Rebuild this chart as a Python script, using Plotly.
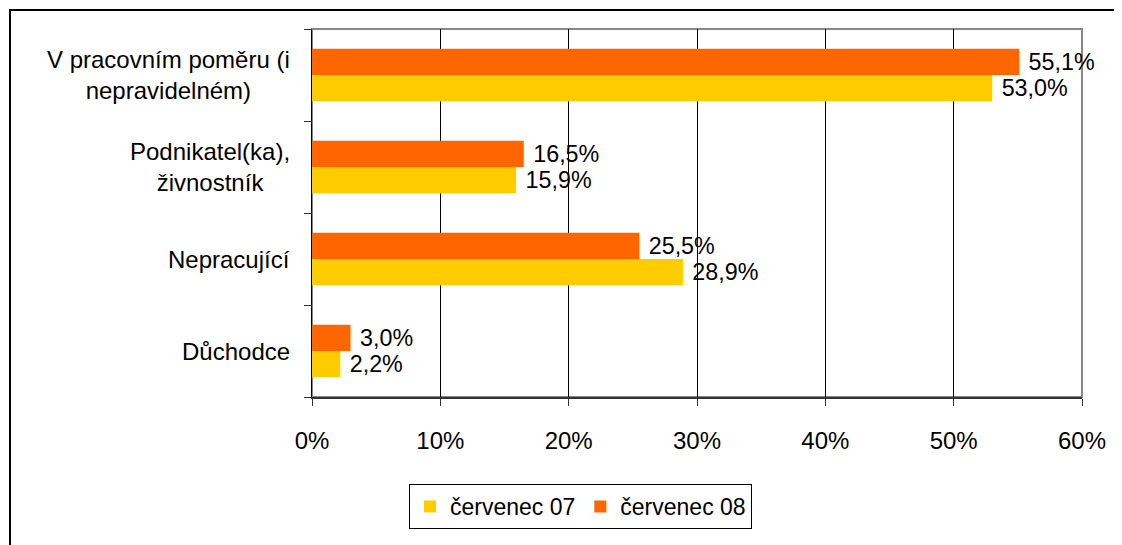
import plotly.graph_objects as go

categories = ["Důchodce", "Nepracující", "Podnikatel(ka),<br>živnostník", "V pracovním poměru (i<br>nepravidelném)"]
values_07 = [2.2, 28.9, 15.9, 53.0]
values_08 = [3.0, 25.5, 16.5, 55.1]
series_names = ["červenec 07", "červenec 08"]
colors = ["#FFCC00", "#FF6600"]
x_ticks = [0, 10, 20, 30, 40, 50, 60]

OFF = 8  # page body margin
W, H = 1122, 545
# target screen pixels of plot area
PL, PR, PT, PB = 312, 1082, 29, 397
PW, PH = PR - PL, PB - PT
ML, MT = PL - OFF, PT - OFF
MR = W - ML - PW
MB = H - MT - PH

def sx(px):  # screen x -> paper x
    return (px - PL) / PW

def sy(py):  # screen y -> paper y
    return (PB - py) / PH

def lab(v):
    return "\u00a0" + f"{v:.1f}%".replace(".", ",")

FAM = "Liberation Sans, Arial"
font = dict(family=FAM, size=24, color="black")

fig = go.Figure()
for name, vals, col in zip(series_names, [values_07, values_08], colors):
    fig.add_trace(go.Bar(
        y=categories, x=vals, name=name, orientation="h",
        marker=dict(color=col, line=dict(width=0)),
        text=[lab(v) for v in vals], textposition="outside",
        textfont=font, cliponaxis=False,
    ))

fig.update_layout(
    width=W, height=H,
    margin=dict(l=ML, r=MR, t=MT, b=MB),
    paper_bgcolor="white", plot_bgcolor="white",
    barmode="group", bargap=0.43, bargroupgap=0,
    font=font,
    showlegend=True,
    legend=dict(orientation="h", x=sx(409), xanchor="left",
                y=sy(484), yanchor="top",
                bordercolor="black", borderwidth=1, font=dict(family=FAM, size=23, color="black"),
                itemwidth=30, tracegroupgap=0),
)
fig.update_xaxes(
    range=[0, 60], tickvals=x_ticks, ticktext=[f"{t}%" for t in x_ticks],
    showgrid=True, gridcolor="black", gridwidth=1,
    ticks="outside", ticklen=7, tickcolor="#333", tickfont=font,
    ticklabelstandoff=14,
    showline=True, linecolor="#333", linewidth=2, zeroline=False,
)
fig.update_yaxes(
    showticklabels=False, ticks="outside", ticklen=7, tickcolor="#333",
    tickson="boundaries", showline=True, linecolor="black", linewidth=1,
    showgrid=False,
)
# plot area border (gray)
fig.add_shape(type="rect", xref="paper", yref="paper", x0=0, x1=1, y0=0, y1=1,
              line=dict(color="#888", width=2), layer="below")
# outer chart border
fig.add_shape(type="rect", xref="paper", yref="paper",
              x0=sx(10), x1=sx(W + 30), y0=sy(H + 30), y1=sy(10),
              line=dict(color="black", width=2))
# category labels (lines centred within a right-aligned block)
for c in categories:
    fig.add_annotation(x=sx(292), xref="paper", y=c, yref="y",
                       text=c, showarrow=False, xanchor="right",
                       align="center", font=font)

fig.write_html("out.html")
